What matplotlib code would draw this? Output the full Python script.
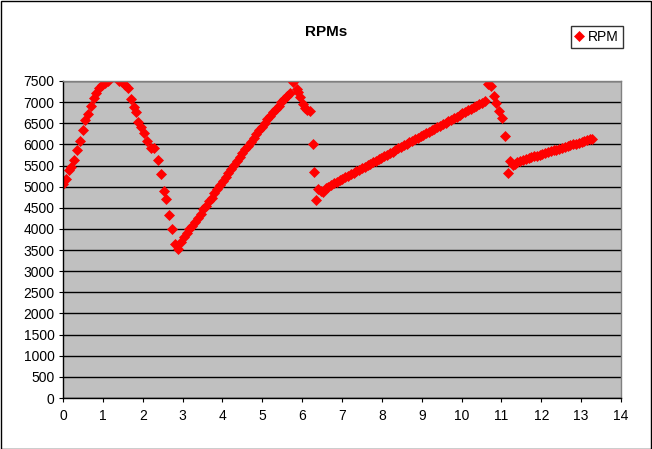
import matplotlib
matplotlib.use("Agg")
import matplotlib.pyplot as plt
from matplotlib.patches import Rectangle

plt.rcParams['font.family'] = ['Liberation Sans', 'DejaVu Sans']

# --- data (time in s, RPM) ---
t_seg1 = [0.00, 0.07, 0.14, 0.20, 0.28, 0.35, 0.43, 0.51, 0.56, 0.63, 0.70, 0.78,
          0.84, 0.91, 0.99, 1.05, 1.13, 1.40, 1.47, 1.55, 1.62, 1.70, 1.77, 1.83,
          1.89, 1.96, 2.03, 2.11, 2.20, 2.29, 2.38, 2.46, 2.53, 2.59, 2.66, 2.73,
          2.81, 2.89]
rpm_seg1 = [5060, 5170, 5390, 5470, 5630, 5860, 6090, 6330, 6570, 6730, 6920, 7090,
            7210, 7330, 7410, 7460, 7500, 7500, 7480, 7410, 7330, 7080, 6880, 6760,
            6540, 6420, 6260, 6080, 5920, 5920, 5630, 5300, 4900, 4710, 4330, 4000,
            3640, 3520]

t_seg2 = [2.96, 3.03, 3.10, 3.17, 3.24, 3.31, 3.38, 3.45, 3.52, 3.59, 3.66, 3.73,
          3.80, 3.87, 3.94, 4.01, 4.08, 4.15, 4.22, 4.29, 4.36, 4.43, 4.50, 4.57,
          4.64, 4.71, 4.78, 4.85, 4.92, 4.99, 5.06, 5.13, 5.20, 5.27, 5.34, 5.41,
          5.48, 5.55, 5.62, 5.69, 5.76]
rpm_seg2 = [3700, 3800, 3900, 3990, 4080, 4170, 4260, 4360, 4460, 4550, 4650, 4740,
            4840, 4940, 5030, 5130, 5230, 5320, 5420, 5510, 5600, 5700, 5790, 5880,
            5970, 6060, 6150, 6240, 6330, 6420, 6510, 6590, 6680, 6760, 6840, 6920,
            7000, 7070, 7140, 7210, 7470]

t_seg3 = [5.86, 5.90, 5.95, 6.02, 6.08, 6.13, 6.19, 6.26, 6.30, 6.36, 6.41, 6.47,
          6.53, 6.60, 6.66]
rpm_seg3 = [7300, 7230, 7130, 6960, 6850, 6820, 6800, 6000, 5350, 4690, 4950, 4890,
            4880, 4970, 5000]

t_seg4 = [6.73, 6.80, 6.87, 6.94, 7.01, 7.08, 7.15, 7.22, 7.29, 7.36, 7.43, 7.50,
          7.57, 7.64, 7.71, 7.78, 7.85, 7.92, 7.99, 8.06, 8.13, 8.20, 8.27, 8.34,
          8.41, 8.48, 8.55, 8.62, 8.69, 8.76, 8.83, 8.90, 8.97, 9.04, 9.11, 9.18,
          9.25, 9.32, 9.39, 9.46, 9.53, 9.60, 9.67, 9.74, 9.81, 9.88, 9.95, 10.02,
          10.09, 10.16, 10.23, 10.30, 10.37, 10.44, 10.51, 10.58]
rpm_seg4 = [5040, 5076, 5112, 5148, 5184, 5220, 5256, 5292, 5328, 5364, 5400, 5436,
            5472, 5508, 5544, 5580, 5616, 5652, 5688, 5724, 5760, 5796, 5832, 5868,
            5904, 5940, 5976, 6012, 6048, 6084, 6120, 6156, 6192, 6228, 6264, 6300,
            6336, 6372, 6408, 6444, 6480, 6516, 6552, 6588, 6624, 6660, 6696, 6732,
            6768, 6804, 6840, 6876, 6912, 6948, 6984, 7020]

t_seg5 = [10.67, 10.73, 10.81, 10.86, 10.95, 11.02, 11.09, 11.17, 11.21, 11.30,
          11.34, 11.40]
rpm_seg5 = [7430, 7380, 7145, 6970, 6800, 6630, 6200, 5330, 5600, 5510, 5530, 5590]

t_seg6 = [11.47, 11.54, 11.61, 11.68, 11.75, 11.82, 11.89, 11.96, 12.03, 12.10,
          12.17, 12.24, 12.31, 12.38, 12.45, 12.52, 12.59, 12.66, 12.73, 12.80,
          12.87, 12.94, 13.01, 13.08, 13.15, 13.22, 13.26]
rpm_seg6 = [5615, 5635, 5656, 5676, 5696, 5717, 5737, 5757, 5777, 5798, 5818, 5838,
            5859, 5879, 5899, 5920, 5940, 5960, 5980, 6001, 6021, 6041, 6062, 6082,
            6102, 6123, 6134]

time_s = t_seg1 + t_seg2 + t_seg3 + t_seg4 + t_seg5 + t_seg6
rpm = rpm_seg1 + rpm_seg2 + rpm_seg3 + rpm_seg4 + rpm_seg5 + rpm_seg6

x_ticks = list(range(0, 15))
y_ticks = list(range(0, 7501, 500))

# --- figure ---
W, H = 652, 449
fig = plt.figure(figsize=(W / 100, H / 100), dpi=100)
fig.patch.set_facecolor('white')
fig.patches.append(Rectangle((0.5 / W, 0.5 / H), 1 - 1.5 / W, 1 - 1.5 / H,
                             transform=fig.transFigure, fill=False,
                             edgecolor='black', linewidth=1.0))

ax = fig.add_axes([63 / W, 1 - 398 / H, (621 - 63) / W, (398 - 81) / H])
ax.set_facecolor('#C0C0C0')
ax.set_xlim(0, 14)
ax.set_ylim(0, 7500)
ax.set_xticks(x_ticks)
ax.set_yticks(y_ticks)
ax.yaxis.grid(True, color='black', linewidth=1.0)
ax.set_axisbelow(True)

for side in ['top', 'right']:
    ax.spines[side].set_color('#808080')
    ax.spines[side].set_linewidth(1.0)
for side in ['left', 'bottom']:
    ax.spines[side].set_color('black')
    ax.spines[side].set_linewidth(1.0)

ax.tick_params(axis='both', direction='out', length=3, width=0.8,
               colors='black', labelsize=10)
ax.tick_params(axis='x', pad=5)
ax.tick_params(axis='y', pad=3)

ax.plot(time_s, rpm, linestyle='none', marker='D', markersize=4.7,
        color='#FF0000', markeredgecolor='#FF0000', markeredgewidth=0.5,
        label='RPM')

fig.text(326 / W, 1 - 32 / H, 'RPMs', ha='center', va='center',
         fontsize=11, fontweight='bold')

leg = ax.legend(loc='upper left', bbox_to_anchor=(571 / W, 1 - 26 / H),
                bbox_transform=fig.transFigure, fontsize=10, frameon=True,
                fancybox=False, borderpad=0.3, handlelength=0.6,
                handletextpad=0.35, borderaxespad=0, markerscale=1.0)
leg.get_frame().set_edgecolor('black')
leg.get_frame().set_linewidth(1.0)

fig.savefig('out.png', dpi=100, facecolor='white')
